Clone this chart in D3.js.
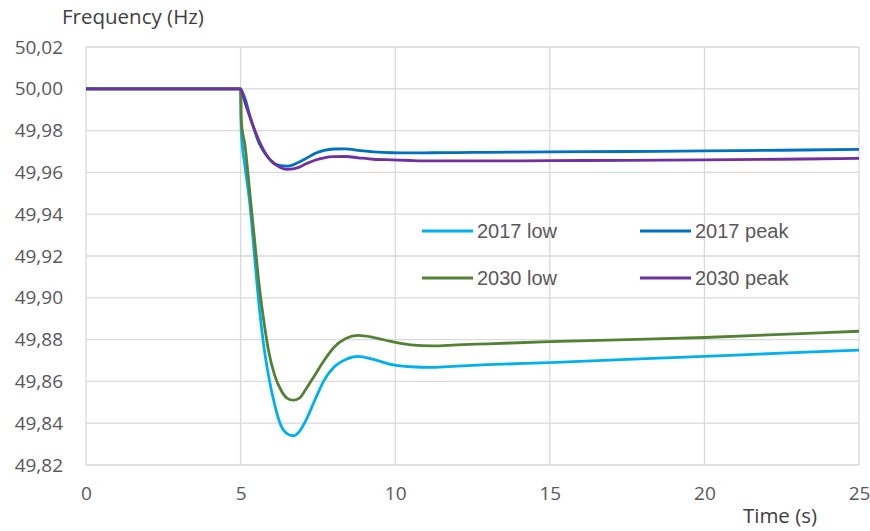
<!DOCTYPE html>
<html>
<head>
<meta charset="utf-8">
<script src="https://cdn.jsdelivr.net/npm/d3@7"></script>
<style>
  body { margin: 0; background: #fff; }
  .tick text { font-family: "Open Sans", sans-serif; font-size: 19px; fill: #595959; }
</style>
</head>
<body>
<div id="chart"></div>
<script>
// time samples (s)
var time = [0, 5, 5.02, 5.15, 5.3, 5.45, 5.6, 5.75, 5.9, 6.1, 6.3, 6.5, 6.7, 6.9, 7.1, 7.4, 7.7, 8.0, 8.4, 8.8, 9.3, 9.9, 10.5, 11.2, 12, 13, 15, 17.5, 20, 22.5, 25];

var low2017 = [50, 50, 49.98, 49.962, 49.945, 49.92, 49.896, 49.877, 49.863, 49.849, 49.839, 49.835, 49.834, 49.836, 49.841, 49.851, 49.8605, 49.8665, 49.8705, 49.872, 49.8705, 49.868, 49.867, 49.8667, 49.8673, 49.868, 49.869, 49.8705, 49.872, 49.8735, 49.875];
var peak2017 = [50, 50, 49.9995, 49.995, 49.987, 49.98, 49.974, 49.97, 49.967, 49.964, 49.9632, 49.963, 49.9636, 49.965, 49.9665, 49.969, 49.9705, 49.9712, 49.9713, 49.9705, 49.9698, 49.9694, 49.9693, 49.9694, 49.9695, 49.9696, 49.9698, 49.97, 49.9703, 49.9706, 49.971];
var low2030 = [50, 50, 49.985, 49.972, 49.95, 49.928, 49.906, 49.889, 49.875, 49.863, 49.856, 49.852, 49.851, 49.852, 49.856, 49.863, 49.87, 49.876, 49.8805, 49.882, 49.881, 49.879, 49.8775, 49.877, 49.8775, 49.878, 49.879, 49.88, 49.881, 49.8825, 49.884];
var peak2030 = [50, 50, 49.9995, 49.993, 49.9865, 49.9805, 49.975, 49.9705, 49.967, 49.9642, 49.9622, 49.9615, 49.9617, 49.9625, 49.964, 49.9658, 49.967, 49.9675, 49.9676, 49.967, 49.9663, 49.966, 49.9657, 49.9655, 49.9655, 49.9655, 49.9656, 49.9658, 49.966, 49.9663, 49.9667];

var seriesNames = ["2017 low", "2017 peak", "2030 low", "2030 peak"];
var seriesColors = ["#00b0f0", "#0070c0", "#548235", "#7030a0"];
var xTicks = [0, 5, 10, 15, 20, 25];
var yTicks = [49.82, 49.84, 49.86, 49.88, 49.90, 49.92, 49.94, 49.96, 49.98, 50.00, 50.02];

var svg = d3.select("#chart").append("svg").attr("width", 870).attr("height", 531),
    margin = {top: 47, right: 11, bottom: 66, left: 86},
    width = +svg.attr("width") - margin.left - margin.right,
    height = +svg.attr("height") - margin.top - margin.bottom,
    g = svg.append("g").attr("transform", "translate(" + margin.left + "," + margin.top + ")");

var x = d3.scaleLinear().domain([0, 25]).range([0, width]);
var y = d3.scaleLinear().domain([49.82, 50.02]).range([height, 0]);

var fmt = function(d) { return d3.format(".2f")(d).replace(".", ","); };

// gridlines
g.append("g")
    .selectAll("line")
    .data(yTicks)
    .enter().append("line")
      .attr("x1", 0).attr("x2", width)
      .attr("y1", function(d) { return y(d); })
      .attr("y2", function(d) { return y(d); })
      .attr("stroke", "#d9d9d9")
      .attr("stroke-width", 1.3);

g.append("g")
    .selectAll("line")
    .data(xTicks)
    .enter().append("line")
      .attr("x1", function(d) { return x(d); })
      .attr("x2", function(d) { return x(d); })
      .attr("y1", 0).attr("y2", height)
      .attr("stroke", "#d9d9d9")
      .attr("stroke-width", 1.3);

// axes (labels only)
g.append("g")
    .attr("transform", "translate(0," + height + ")")
    .call(d3.axisBottom(x).tickValues(xTicks).tickSize(0).tickPadding(22).tickFormat(d3.format("d")))
    .call(function(a) { a.select(".domain").remove(); });

g.append("g")
    .call(d3.axisLeft(y).tickValues(yTicks).tickSize(0).tickPadding(23).tickFormat(fmt))
    .call(function(a) { a.select(".domain").remove(); });

// series lines
var allSeries = [low2017, peak2017, low2030, peak2030];
var line = d3.line()
    .x(function(d, i) { return x(time[i]); })
    .y(function(d) { return y(d); })
    .curve(d3.curveMonotoneX);

g.append("g")
    .selectAll("path")
    .data(allSeries)
    .enter().append("path")
      .attr("d", line)
      .attr("fill", "none")
      .attr("stroke", function(d, i) { return seriesColors[i]; })
      .attr("stroke-width", 2.8)
      .attr("stroke-linejoin", "round");

// legend
var legend = svg.append("g")
    .selectAll("g")
    .data(seriesNames)
    .enter().append("g")
      .attr("transform", function(d, i) { return "translate(" + (i % 2 ? 640 : 422) + "," + (i < 2 ? 231 : 278) + ")"; });

legend.append("line")
    .attr("x1", 0).attr("x2", 51)
    .attr("stroke", function(d, i) { return seriesColors[i]; })
    .attr("stroke-width", 3);

legend.append("text")
    .attr("x", 55)
    .attr("dy", "0.35em")
    .attr("font-family", "Liberation Sans, Arial, sans-serif")
    .attr("font-size", 20)
    .attr("fill", "#595959")
    .text(function(d) { return d; });

// axis titles
svg.append("text")
    .attr("x", 62).attr("y", 24)
    .attr("font-family", "Open Sans, sans-serif")
    .attr("font-size", 20.5)
    .attr("fill", "#404040")
    .text("Frequency (Hz)");

svg.append("text")
    .attr("x", 780).attr("y", 523)
    .attr("text-anchor", "middle")
    .attr("font-family", "Open Sans, sans-serif")
    .attr("font-size", 20.5)
    .attr("fill", "#404040")
    .text("Time (s)");
</script>
</body>
</html>
